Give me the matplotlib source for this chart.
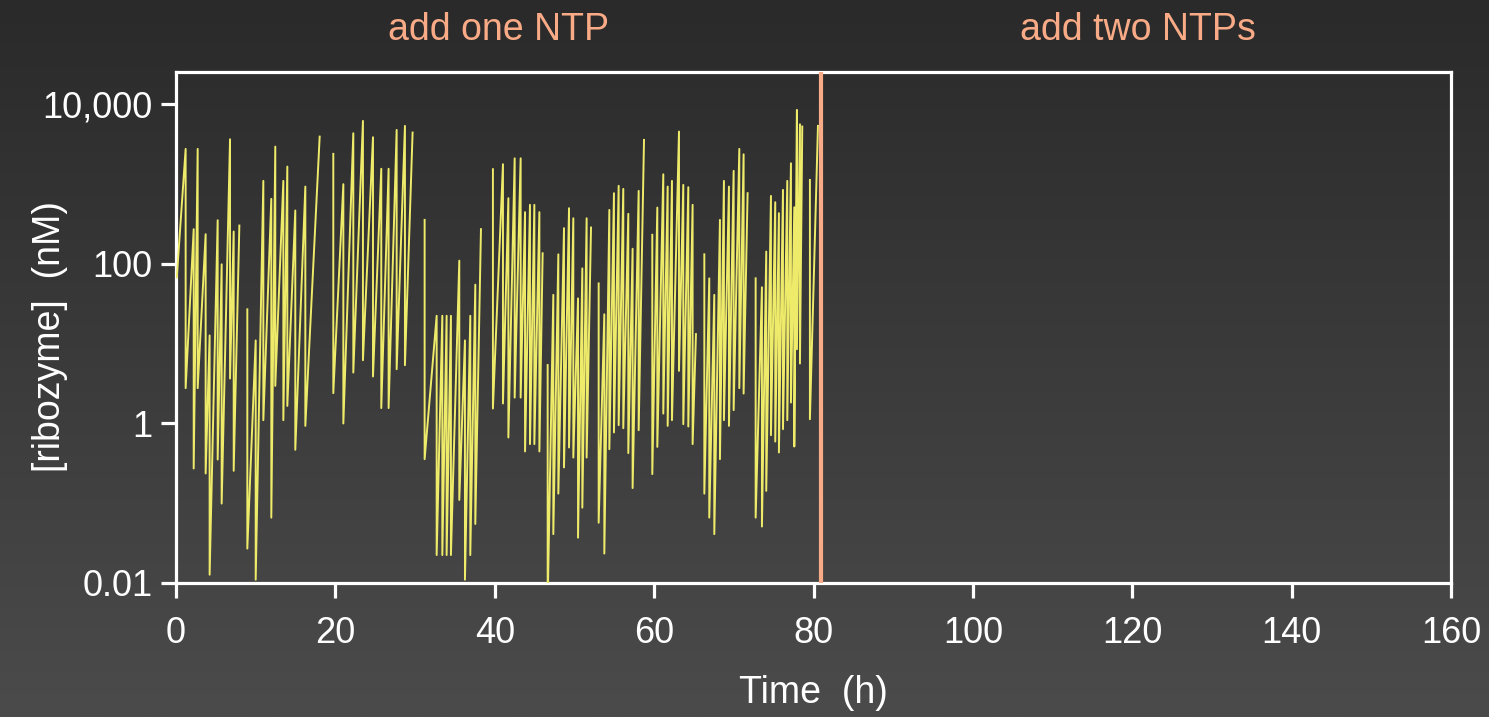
import numpy as np
import matplotlib
matplotlib.use("Agg")
import matplotlib.pyplot as plt
from matplotlib.colors import LinearSegmentedColormap

plt.rcParams["font.family"] = ["Liberation Sans", "DejaVu Sans"]

# Serial-transfer trace: at each transfer time the concentration just before
# dilution and just after it. None in before_nM marks the first point of the run,
# None in after_nM marks a gap in the record (or its end).
transfer_h = [
    0.1, 1.21, 2.22, 2.72, 3.72, 4.22, 5.23, 5.73, 6.78, 7.24, 7.95,
    8.95, 10.0, 10.96, 11.96, 12.46, 13.47, 13.97, 14.97, 16.23, 18.03,
    19.74, 21.0, 22.25, 23.46, 24.72, 25.76, 26.68, 27.69, 28.73, 29.69,
    31.20, 32.71, 33.42, 33.96, 34.50, 35.55, 36.26, 36.93, 37.56, 38.27,
    39.77, 41.03, 41.71, 42.50, 43.25, 43.80, 44.42, 44.97, 45.60, 46.01,
    46.64, 47.35, 47.98, 48.69, 49.32, 49.86, 50.45, 50.99, 51.53, 52.08,
    53.04, 53.75, 54.38, 54.96, 55.55, 56.13, 56.76, 57.30, 58.06, 58.73,
    59.77, 60.40, 61.15, 61.70, 62.24, 63.12, 63.66, 64.29, 64.83, 65.25,
    66.30, 66.92, 67.55, 68.26, 68.76, 69.39, 69.98, 70.69, 71.23, 71.73,
    72.74, 73.53, 74.07, 74.66, 75.20, 75.66, 76.17, 76.71, 77.17, 77.59,
    77.92, 78.30, 78.59,
    79.55, 80.56,
]
before_nM = [
    None, 2770, 273, 2770, 236, 12.7, 353, 99, 3660, 255, 303,
    27, 11.0, 1100, 655, 2960, 1100, 1660, 468, 933, 3950,
    2400, 1000, 4350, 6210, 3880, 1560, 1560, 4790, 5380, 4440,
    357, 22.4, 22.4, 22.4, 22.4, 110, 11.0, 22.4, 55, 273,
    1540, 1780, 667, 2110, 2110, 446, 551, 551, 446, 136,
    5.4, 41, 132, 281, 500, 374, 37, 88, 374, 286,
    57, 23.4, 476, 771, 953, 873, 425, 155, 824, 3590,
    232, 509, 1330, 933, 1100, 4570, 980, 916, 551, 13.2,
    132, 66, 41, 357, 1100, 933, 1470, 2770, 2370, 771,
    66, 51, 143, 713, 594, 433, 849, 1100, 1830, 514,
    8530, 5640, 5280,
    1130, 5380,
]
after_nM = [
    68, 2.77, 0.273, 2.77, 0.236, 0.0127, 0.353, 0.099, 3.66, 0.255, None,
    0.027, 0.011, 1.1, 0.066, 2.96, 1.1, 1.66, 0.468, 0.933, None,
    2.4, 1.0, 4.35, 6.21, 3.88, 1.56, 1.56, 4.79, 5.38, None,
    0.357, 0.0224, 0.0224, 0.0224, 0.0224, 0.110, 0.011, 0.0224, 0.055, None,
    1.54, 1.78, 0.667, 2.11, 2.11, 0.446, 0.551, 0.551, 0.446, None,
    0.0054, 0.041, 0.132, 0.281, 0.5, 0.374, 0.037, 0.088, 0.374, None,
    0.057, 0.0234, 0.476, 0.771, 0.953, 0.873, 0.425, 0.155, 0.824, None,
    0.232, 0.509, 1.33, 0.933, 1.1, 4.57, 0.98, 0.916, 0.551, None,
    0.132, 0.066, 0.041, 0.357, 1.1, 0.933, 1.47, 2.77, 2.37, None,
    0.066, 0.051, 0.143, 0.713, 0.594, 0.433, 0.849, 1.1, 1.83, 0.514,
    8.53, 5.64, None,
    1.13, None,
]

x_ticks = [0, 20, 40, 60, 80, 100, 120, 140, 160]
y_ticks = [0.01, 1, 100, 10000]
y_tick_labels = ["0.01", "1", "100", "10,000"]
switch_h = 81
phase_labels = ["add one NTP", "add two NTPs"]
phase_centers_h = [40.5, 120.7]

# Build the polyline: vertical drop at each transfer, NaN where the record breaks
xs, ys = [], []
for t, b, a in zip(transfer_h, before_nM, after_nM):
    if b is not None:
        xs.append(t)
        ys.append(b)
    if a is not None:
        xs.append(t)
        ys.append(a)
    else:
        xs.append(np.nan)
        ys.append(np.nan)

W, H = 1489, 717
fig = plt.figure(figsize=(W / 100, H / 100), dpi=100)

# Dark vertical gradient backdrop
bg = fig.add_axes([0, 0, 1, 1], zorder=-10)
grad = np.linspace(0, 1, 256).reshape(-1, 1)
cmap = LinearSegmentedColormap.from_list("bg", ["#2a2a2a", "#4b4b4b"])
bg.imshow(grad, aspect="auto", cmap=cmap, extent=[0, 1, 1, 0])
bg.set_axis_off()

salmon = "#f8ab86"
ax_h = 583 - 72
ax = fig.add_axes([176 / W, 1 - 583 / H, (1451 - 176) / W, ax_h / H])
ax.patch.set_alpha(0)
ax.set_yscale("log")
ax.set_xlim(0, 160)
ax.set_ylim(0.01, 25500)

ax.plot(xs, ys, color="#eeea6a", lw=1.4, solid_joinstyle="round", zorder=3)
ax.axvline(switch_h, color=salmon, lw=3, zorder=4)

for sp in ax.spines.values():
    sp.set_color("white")
    sp.set_linewidth(2.3)

ax.set_xticks(x_ticks)
ax.set_xticklabels([str(v) for v in x_ticks])
ax.set_yticks(y_ticks)
ax.set_yticklabels(y_tick_labels)
ax.yaxis.set_minor_locator(matplotlib.ticker.NullLocator())
ax.tick_params(axis="both", which="major", colors="white", direction="out",
               length=11, width=2.3, labelsize=26, labelcolor="white")
ax.tick_params(axis="y", pad=6)
ax.tick_params(axis="x", pad=13)

ax.set_xlabel("Time  (h)", color="white", fontsize=27, labelpad=17)
ax.set_ylabel("[ribozyme]  (nM)", color="white", fontsize=27)
ax.yaxis.set_label_coords((68 - 176) / 1275, (583 - 336) / ax_h)

for lab, c in zip(phase_labels, phase_centers_h):
    ax.text(c, 1.0 + 42 / ax_h, lab, transform=ax.get_xaxis_transform(),
            ha="center", va="center", color=salmon, fontsize=27)

fig.savefig("out.png", dpi=100)
